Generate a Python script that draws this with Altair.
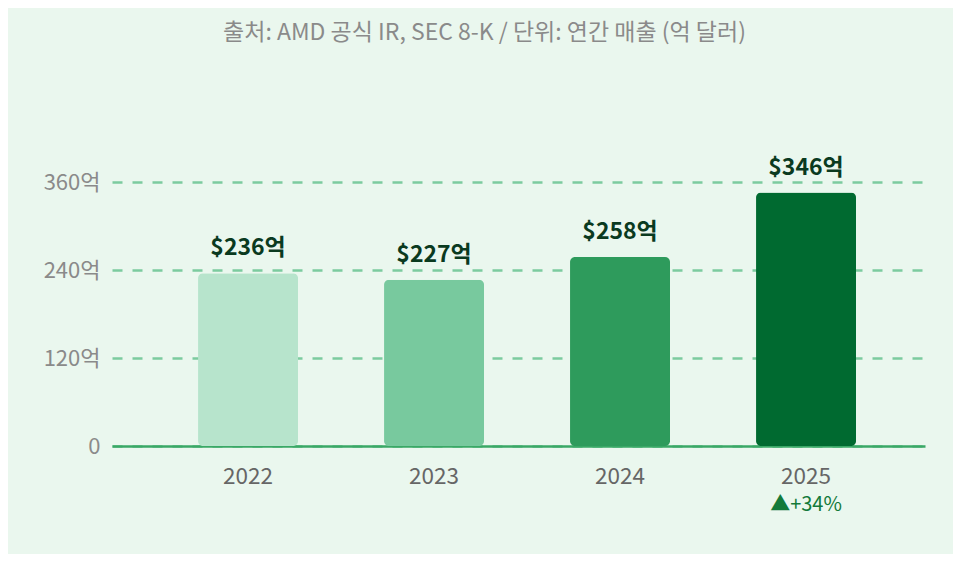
import altair as alt
import pandas as pd

years = ["2022", "2023", "2024", "2025"]
revenue = [236, 227, 258, 346]
value_labels = ["$236억", "$227억", "$258억", "$346억"]
growth = ["", "", "", "▲+34%"]
colors = ["#b7e4cc", "#78c99e", "#2e9b5c", "#006a30"]
y_ticks = [0, 120, 240, 360]

df = pd.DataFrame({"year": years, "revenue": revenue, "label": value_labels,
                   "growth": growth, "color": colors})

FONT = "Noto Sans CJK KR"

x = alt.X("year:N", sort=years, title=None,
          scale=alt.Scale(paddingInner=0.4624, paddingOuter=0.4167, align=0.555),
          axis=alt.Axis(labelAngle=0, labelFontSize=22.5, labelColor="#666666",
                        labelFont=FONT, labelPadding=19, ticks=False,
                        domain=True, domainColor="#3aa866", domainWidth=2.5,
                        grid=False))

bars = alt.Chart(df).mark_bar(cornerRadius=5).encode(
    x=x,
    y=alt.Y("revenue:Q", title=None,
            scale=alt.Scale(domain=[0, 400], nice=False),
            axis=alt.Axis(values=y_ticks, labelFontSize=22, labelColor="#8a8a8a",
                          labelFont=FONT, labelPadding=12, ticks=False, domain=False,
                          grid=True, gridColor="#7ccb9f", gridDash=[10, 10],
                          gridWidth=2.5,
                          labelExpr="datum.value == 0 ? '0' : datum.value + '억'")),
    color=alt.Color("color:N", scale=None),
)

labels = alt.Chart(df).mark_text(baseline="alphabetic", dy=-18, fontSize=23,
                                 fontWeight="bold", font=FONT,
                                 color="#0a3a1f").encode(
    x=alt.X("year:N", sort=years),
    y=alt.Y("revenue:Q"),
    text="label:N",
)

growth_txt = alt.Chart(df).mark_text(baseline="middle", dy=59, fontSize=20,
                                     font=FONT, color="#137a3a").encode(
    x=alt.X("year:N", sort=years),
    y=alt.datum(0),
    text="growth:N",
)

chart = alt.layer(bars, labels, growth_txt).properties(
    width=813, height=293,
    autosize=alt.AutoSizeParams(type="none"),
    padding={"left": 104, "top": 145, "right": 28, "bottom": 108},
    background="#eaf7ee",
    title=alt.TitleParams("출처: AMD 공식 IR, SEC 8-K / 단위: 연간 매출 (억 달러)",
                          font=FONT, fontSize=23, fontWeight="normal",
                          color="#8a8a8a", anchor="middle", offset=108, dx=-34),
).configure_view(stroke=None)

chart.save("out.html", embed_options={"renderer": "svg", "actions": False})
